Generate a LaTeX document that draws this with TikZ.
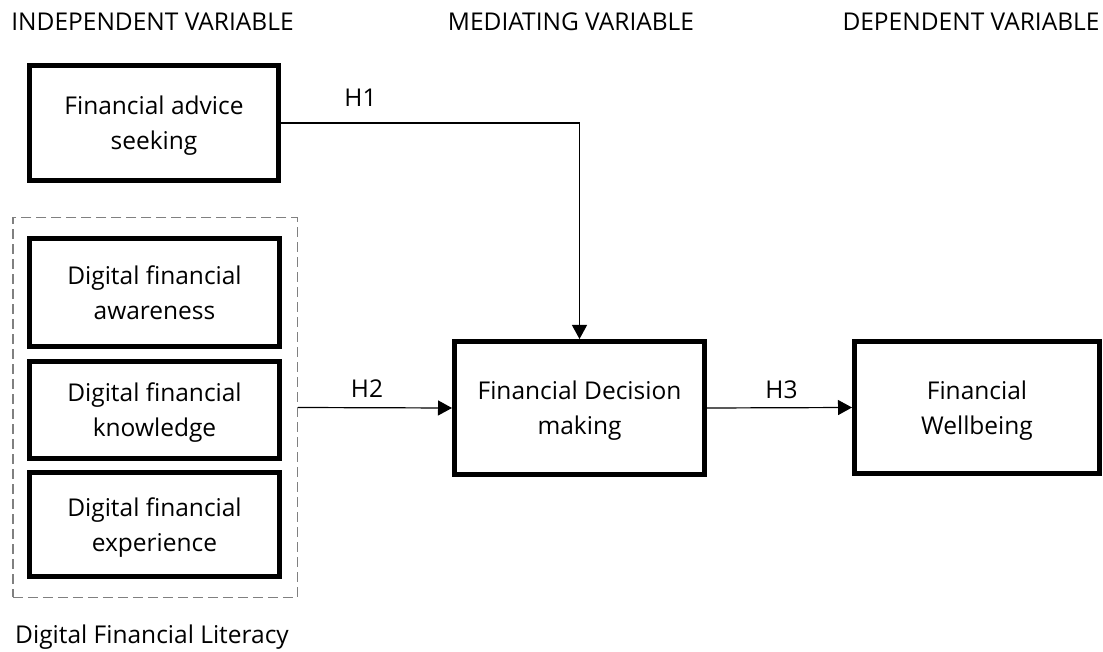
\documentclass[tikz,border=0pt]{standalone}
\usepackage{fontspec}
\setmainfont{Open Sans}
\usetikzlibrary{arrows.meta}
\newcommand{\tstr}{\rule[-5pt]{0pt}{29pt}}
\begin{document}
\begin{tikzpicture}[x=1pt,y=-1pt,
  every node/.style={font=\fontsize{24.5}{35}\selectfont, inner sep=0pt},
  varbox/.style={draw, line width=5pt, align=center},
  conn/.style={line width=1.2pt, -{Triangle[length=14pt,width=15pt]}},
  hlabel/.style={anchor=base},
  dashbox/.style={draw=black!50, line width=1.5pt, dash pattern=on 10pt off 5pt}]
\useasboundingbox (0,0) rectangle (1103,652);
% headers
\node[hlabel] (hind) at (152.5,31) {INDEPENDENT VARIABLE};
\node[hlabel] (hmed) at (571,31) {MEDIATING VARIABLE};
\node[hlabel] (hdep) at (971,31) {DEPENDENT VARIABLE};
% boxes
\node[varbox, minimum width=249, minimum height=115] (adv) at (154,123) {\tstr Financial advice\\seeking\tstr};
\node[dashbox, minimum width=284.5, minimum height=379.5] (dfl) at (155,407.5) {};
\node[varbox, minimum width=250, minimum height=108] (aw) at (154.5,292.5) {\tstr Digital financial\\awareness\tstr};
\node[varbox, minimum width=250, minimum height=97] (kn) at (154.5,410) {\tstr Digital financial\\knowledge\tstr};
\node[varbox, minimum width=250, minimum height=104] (ex) at (154.5,524.5) {\tstr Digital financial\\experience\tstr};
\node[hlabel] (lit) at (152,643) {Digital Financial Literacy};
\node[varbox, minimum width=250, minimum height=133] (dec) at (579.5,408) {\tstr Financial Decision\\making\tstr};
\node[varbox, minimum width=245, minimum height=132] (wb) at (977,407.5) {\tstr Financial\\Wellbeing\tstr};
% connectors
\draw[conn] (adv.east) -| (dec.north);
\draw[conn] (dfl.east) -- (dec.west);
\draw[conn] (dec.east) -- (wb.west);
% labels
\node[hlabel] (h1) at (360.5,107) {H1};
\node[hlabel] (h2) at (367,397) {H2};
\node[hlabel] (h3) at (781.5,398) {H3};
\end{tikzpicture}
\end{document}
